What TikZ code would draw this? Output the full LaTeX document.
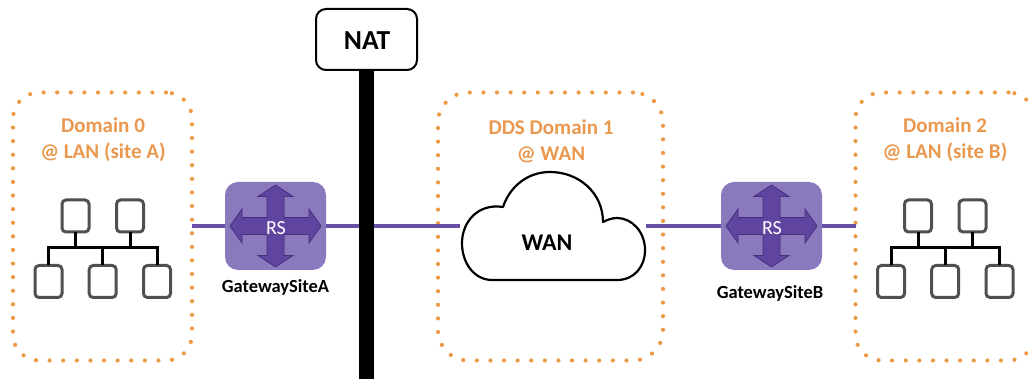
\documentclass[tikz,border=0pt]{standalone}
\usepackage{fontspec}
\setmainfont{Carlito}
\definecolor{dotorange}{HTML}{ED9A45}
\definecolor{txtorange}{HTML}{E9994F}
\definecolor{linkpurple}{HTML}{6A4FA8}
\definecolor{routerfill}{HTML}{8B79BE}
\definecolor{crossfill}{HTML}{5F459F}
\definecolor{crossline}{HTML}{46307F}
\definecolor{hostgray}{HTML}{505050}
\tikzset{
  domainbox/.style={draw=dotorange,line width=4.2pt,line cap=round,dash pattern=on 0pt off 13.6pt,rounded corners=26pt,minimum height=268pt,inner sep=0pt,outer sep=0pt},
  domaintext/.style={text=txtorange,font=\fontsize{21}{26}\selectfont\bfseries,align=center,inner sep=0pt},
  routerbox/.style={fill=routerfill,rounded corners=13pt,minimum width=101pt,minimum height=88pt,inner sep=0pt,outer sep=0pt},
  crossarrow/.style={fill=crossfill,draw=crossline,line width=0.8pt,line join=miter},
  rstext/.style={text=white,font=\fontsize{20}{22}\selectfont,inner sep=0pt},
  gwtext/.style={text=black,font=\fontsize{18.5}{20}\selectfont\bfseries,inner sep=0pt},
  link/.style={draw=linkpurple,line width=3.2pt},
  hostbox/.style={draw=hostgray,line width=3pt,rounded corners=4pt,minimum width=27pt,minimum height=32pt,inner sep=0pt,outer sep=0pt,fill=white},
  bus/.style={draw=black,line width=3pt,line cap=butt},
  natbox/.style={draw=black,line width=2pt,fill=white,rounded corners=10pt,minimum width=101pt,minimum height=61pt,inner sep=0pt,outer sep=0pt,font=\fontsize{27.5}{30}\selectfont\bfseries},
  natbar/.style={draw=black,line width=15pt},
  cloudshape/.style={draw=black,line width=2.2pt,fill=white,line join=round},
  wantext/.style={font=\fontsize{24}{26}\selectfont\bfseries,inner sep=0pt},
  pics/lan/.style={code={
    \node[hostbox] (-t1) at (75.5,216) {};
    \node[hostbox] (-t2) at (130,216) {};
    \node[hostbox] (-b1) at (48.5,281.5) {};
    \node[hostbox] (-b2) at (102.7,281.5) {};
    \node[hostbox] (-b3) at (157,281.5) {};
    \coordinate (-bus) at (0,248);
    \draw[bus] (-t1.south) -- (-t1.south |- -bus);
    \draw[bus] (-t2.south) -- (-t2.south |- -bus);
    \draw[bus] (-b2.north) -- (-b2.north |- -bus);
    \draw[bus] (-b1.north) -- (-b1.north |- -bus) -- (-b3.north |- -bus) -- (-b3.north);
  }},
  pics/cross/.style={code={
    \draw[crossarrow] (-8.5,-8.5) -- (-8.5,-29.5) -- (-17.5,-29.5) -- (0,-41) -- (17.5,-29.5) -- (8.5,-29.5) -- (8.5,-8.5)
      -- (33.5,-8.5) -- (33.5,-17) -- (45.5,0) -- (33.5,17) -- (33.5,8.5) -- (8.5,8.5)
      -- (8.5,29.5) -- (17.5,29.5) -- (0,41) -- (-17.5,29.5) -- (-8.5,29.5) -- (-8.5,8.5)
      -- (-33.5,8.5) -- (-33.5,17) -- (-45.5,0) -- (-33.5,-17) -- (-33.5,-8.5) -- cycle;
  }}
}
\begin{document}
\begin{tikzpicture}[x=1pt,y=-1pt]
\useasboundingbox (0,0) rectangle (1028,379);
\clip (0,0) rectangle (1028,379);
% domains
\node[domainbox,minimum width=179pt] (domA) at (102.5,226.5) {};
\node[domainbox,minimum width=225pt,rounded corners=30pt] (domW) at (550.5,226.5) {};
\node[domainbox,minimum width=179pt] (domB) at (945,226.5) {};
\node[domaintext] (txtA) at (103,140) {Domain 0\\@ LAN (site A)};
\node[domaintext] (txtW) at (551,141) {DDS Domain 1\\@ WAN};
\node[domaintext] (txtB) at (945,140) {Domain 2\\@ LAN (site B)};
% routers
\node[routerbox] (rA) at (275.5,226) {};
\node[routerbox] (rB) at (771.5,226) {};
% cloud anchor points
\coordinate (cloudW) at (460,226);
\coordinate (cloudE) at (646,226);
% links
\draw[link] (domA.east |- rA.west) -- (rA.west);
\draw[link] (rA.east) -- (cloudW);
\draw[link] (cloudE) -- (rB.west);
\draw[link] (rB.east) -- (domB.west |- rB.east);
% cross arrows
\pic at (275.5,226) {cross};
\pic at (771.5,226) {cross};
\node[rstext] (rsA) at (276,228) {RS};
\node[rstext] (rsB) at (772,228) {RS};
\node[gwtext] (gwA) at (275.5,287) {GatewaySiteA};
\node[gwtext] (gwB) at (770,293) {GatewaySiteB};
% NAT
\node[natbox] (nat) at (366.5,39.5) {};
\node[font=\fontsize{27.5}{30}\selectfont\bfseries,inner sep=0pt] (nattext) at (367,40.5) {NAT};
\coordinate (barend) at (366.5,379);
\draw[natbar] (nat.south) -- (barend);
% cloud
\draw[cloudshape] (492,280) -- (617,280)
  .. controls (634,280) and (645,267) .. (645,250)
  .. controls (645,232) and (632,218) .. (617,218)
  .. controls (612,218) and (607,220) .. (603,222)
  .. controls (603,193) and (579,172) .. (550,172)
  .. controls (528,172) and (510,186) .. (503,207)
  .. controls (478,203) and (462,222) .. (462,243)
  .. controls (462,264) and (475,280) .. (492,280) -- cycle;
\node[wantext] (wan) at (547,243) {WAN};
% LAN icons
\pic (lanA) at (0,0) {lan};
\pic (lanB) at (842.5,0) {lan};
\end{tikzpicture}
\end{document}
